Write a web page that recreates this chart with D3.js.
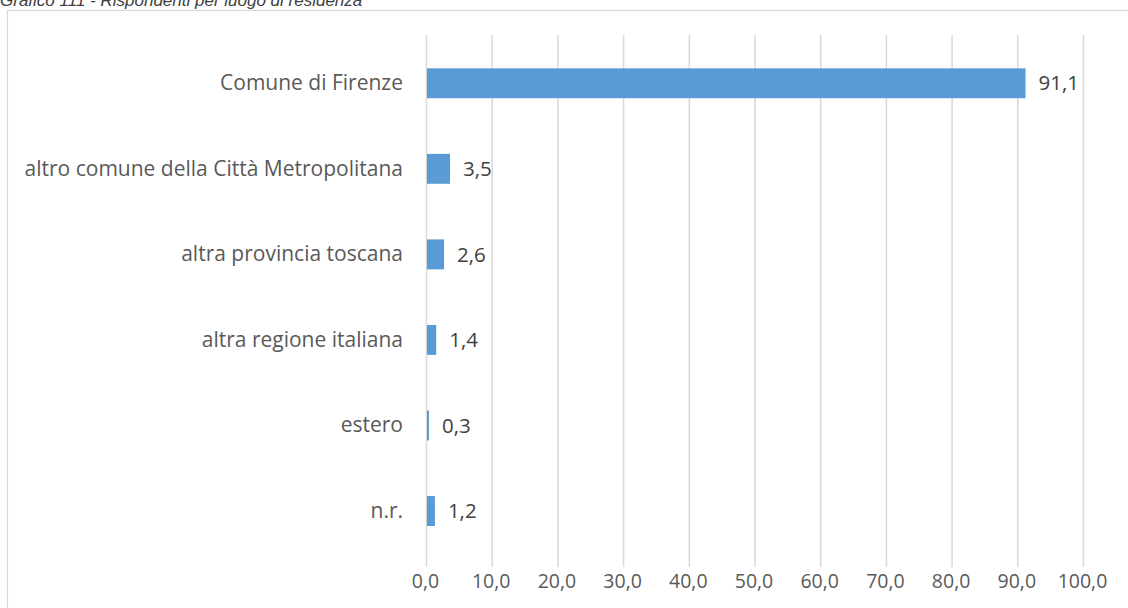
<!DOCTYPE html>
<html><head><meta charset="utf-8">
<script src="https://cdn.jsdelivr.net/npm/d3@7/dist/d3.min.js"></script>
<style>body{margin:0;background:#fff}svg{display:block}</style>
</head><body>
<svg id="c" width="1128" height="608"></svg>
<script>
const categories = ["Comune di Firenze","altro comune della Città Metropolitana","altra provincia toscana","altra regione italiana","estero","n.r."];
const values = [91.1,3.5,2.6,1.4,0.3,1.2];
const tickValues = [0,10,20,30,40,50,60,70,80,90,100];
const title = "Grafico 111 - Rispondenti per luogo di residenza";

const svg = d3.select("#c");
const fmt = v => d3.format(".1f")(v).replace(".", ",");
const font = "'Open Sans', sans-serif";

// frame
svg.append("rect").attr("x",7.5).attr("y",10.5).attr("width",1200).attr("height",700)
  .attr("fill","#fff").attr("stroke","#d9d9d9").attr("stroke-width",1.2);

svg.append("text").attr("x",0).attr("y",6).attr("font-family","'Liberation Sans', Arial, sans-serif")
  .attr("font-style","italic").attr("font-size",17).attr("fill","#404040").text(title);

const x = d3.scaleLinear().domain([0,100]).range([426,1083]);
const y = d3.scaleBand().domain(categories).range([40.5,553.8]).paddingInner(0.65).paddingOuter(0.325);

// gridlines
svg.append("g").selectAll("line").data(tickValues).join("line")
  .attr("x1",d=>x(d)+0.5).attr("x2",d=>x(d)+0.5).attr("y1",35).attr("y2",567)
  .attr("stroke","#d9d9d9").attr("stroke-width",1.5);

// x axis labels
const xa = svg.append("g").attr("transform","translate(-1,567)")
  .call(d3.axisBottom(x).tickValues(tickValues).tickFormat(fmt).tickSize(0).tickPadding(7));
xa.select(".domain").remove();
xa.selectAll("text").attr("font-family",font).attr("font-size",19.5).attr("fill","#595959");

// bars
svg.append("g").selectAll("rect").data(values).join("rect")
  .attr("x",x(0)+1).attr("y",(d,i)=>y(categories[i]))
  .attr("width",d=>x(d)-x(0)).attr("height",y.bandwidth())
  .attr("fill","#5b9bd5");

// value labels
svg.append("g").selectAll("text").data(values).join("text")
  .attr("x",d=>x(d)+14).attr("y",(d,i)=>y(categories[i])+y.bandwidth()/2)
  .attr("dy","0.35em").attr("font-family",font).attr("font-size",20.5).attr("fill","#404040")
  .text(fmt);

// category labels
const ya = svg.append("g").attr("transform",`translate(${x(0)},0)`)
  .call(d3.axisLeft(y).tickSize(0).tickPadding(23));
ya.select(".domain").remove();
ya.selectAll("text").attr("font-family",font).attr("font-size",21).attr("fill","#595959");
</script>
</body></html>
